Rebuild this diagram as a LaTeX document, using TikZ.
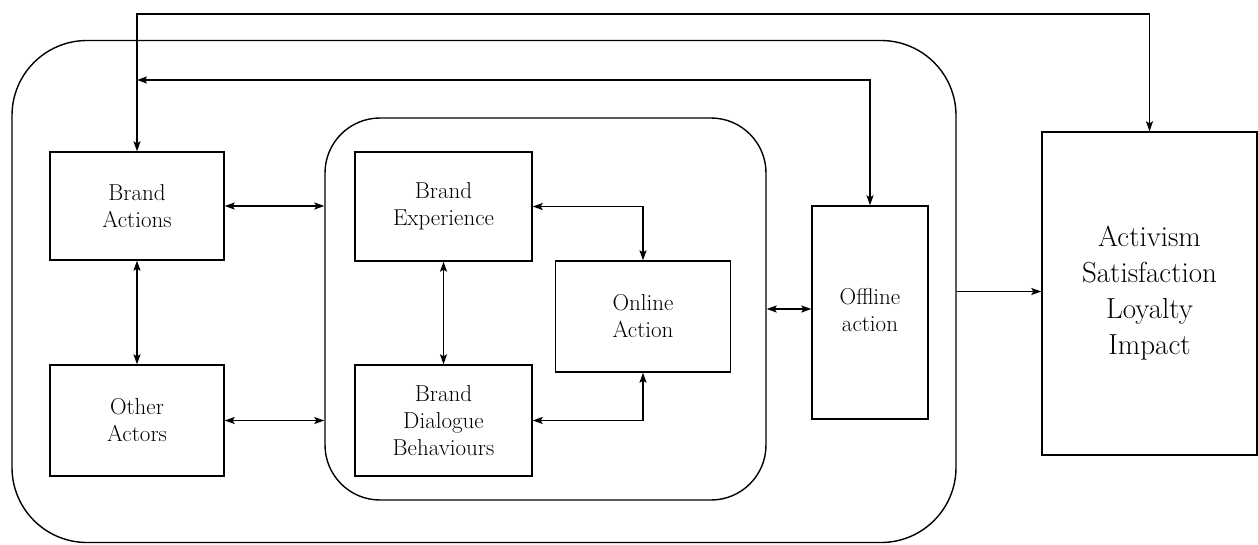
\documentclass[tikz,border=0pt]{standalone}
\usetikzlibrary{arrows.meta}
\begin{document}
\begin{tikzpicture}[x=1pt,y=-1pt,
  line width=1.4pt,
  >={Stealth[length=10pt,width=7pt,inset=2pt]},
  box/.style={draw, rectangle, align=center, inner sep=0pt, font=\fontsize{23}{27}\selectfont},
  bigbox/.style={draw, rectangle, align=center, inner sep=0pt, font=\fontsize{29}{36}\selectfont},
  frame/.style={draw, rectangle, inner sep=0pt}]
\useasboundingbox (0,0) rectangle (1258,544);
% containers
\node[frame, rounded corners=75pt, minimum width=944pt, minimum height=502pt] (outer) at (484,291.5) {};
\node[frame, rounded corners=55pt, minimum width=441pt, minimum height=382pt] (inner) at (545.5,309) {};
% boxes
\node[box, minimum width=174pt, minimum height=108pt] (ba) at (137,206) {Brand\\Actions};
\node[box, minimum width=174pt, minimum height=111pt] (oa) at (137,420.5) {Other\\Actors};
\node[box, minimum width=177pt, minimum height=109pt] (be) at (443.5,206.5) {Brand\\Experience};
\node[box, minimum width=177pt, minimum height=111pt] (bd) at (443.5,420.5) {Brand\\Dialogue\\Behaviours};
\node[box, minimum width=175pt, minimum height=111pt] (on) at (643,316.5) {Online\\Action};
\node[box, minimum width=116pt, minimum height=213pt] (off) at (870,312.5) {};
\node[font=\fontsize{23}{27}\selectfont, align=center] (offt) at (870,310) {Offline\\action};
\node[bigbox, minimum width=215pt, minimum height=323pt] (act) at (1149.5,293.5) {Activism\\Satisfaction\\Loyalty\\Impact};
% junction
\coordinate (j) at (137,80);
\coordinate (top) at (137,14);
% connectors
\draw[<->] (ba.north) -- (top) -- (top -| act.north) -- (act.north);
\draw[<->] (j) -- (j -| off.north) -- (off.north);
\draw[<->] (ba.south) -- (oa.north);
\draw[<->] (ba.east) -- (ba.east -| inner.west);
\draw[<->] (oa.east) -- (oa.east -| inner.west);
\draw[<->] (be.south) -- (bd.north);
\draw[<->] (be.east) -| (on.north);
\draw[<->] (bd.east) -| (on.south);
\draw[<->] (inner.east) -- (inner.east -| off.west);
\draw[->] (outer.east) -- (outer.east -| act.west);
\end{tikzpicture}
\end{document}
